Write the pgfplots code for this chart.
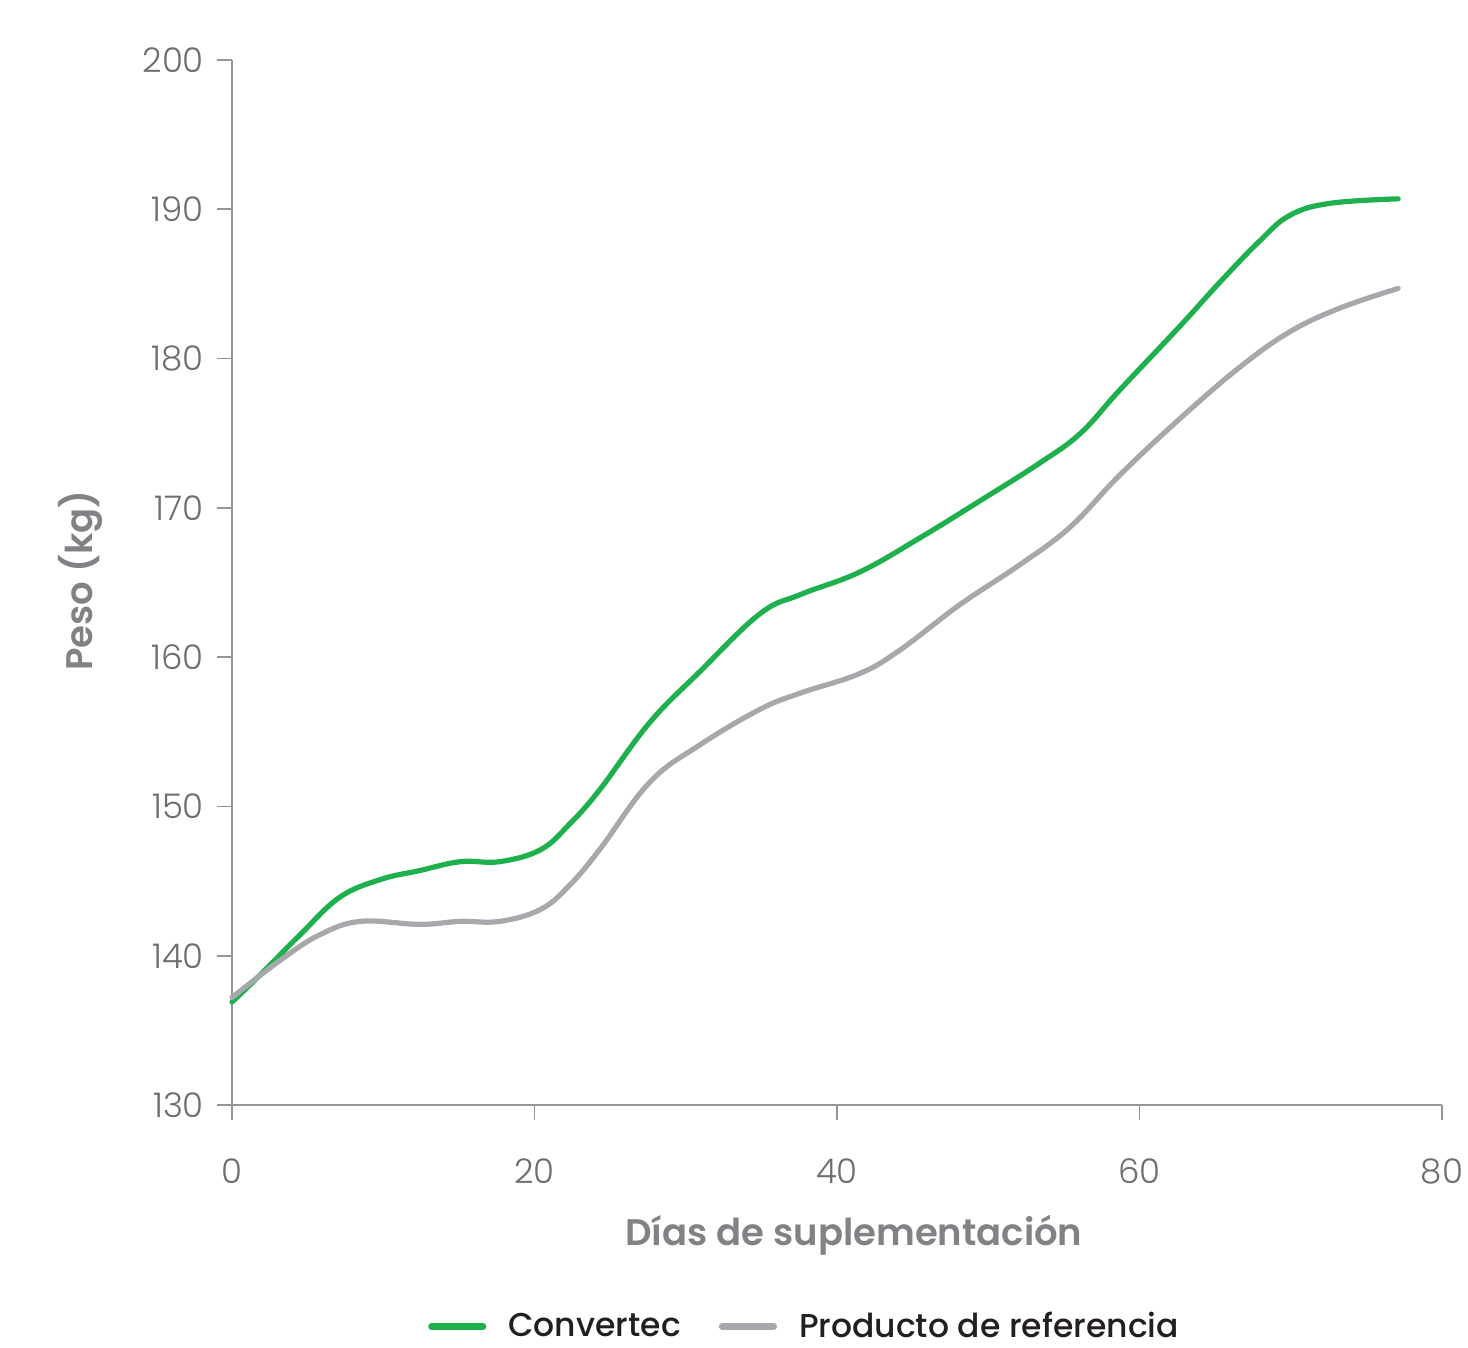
\documentclass[border=0pt]{standalone}
\usepackage{pgfplots}
\pgfplotsset{compat=1.18}
\usepackage{fontspec}
\setmainfont{Poppins}
\newfontfamily\psemi{Poppins SemiBold}
\newfontfamily\pmed{Poppins Medium}
\newfontfamily\plight{Poppins Light}
\definecolor{cgreen}{HTML}{1FB04E}
\definecolor{cgray}{HTML}{A7A8AB}
\definecolor{caxis}{HTML}{939598}
\definecolor{ctick}{HTML}{6D6E71}
\definecolor{clab}{HTML}{808285}
\definecolor{cleg}{HTML}{231F20}
\begin{document}
\begin{tikzpicture}
\useasboundingbox (0,0) rectangle (734pt,674pt);
\begin{axis}[
  at={(116pt,121.5pt)}, anchor=south west,
  scale only axis, width=605pt, height=522.5pt,
  xmin=0, xmax=80, ymin=130, ymax=200,
  xtick={0,20,...,80}, ytick={130,140,...,200},
  axis lines=left, axis line style={-, caxis, line width=0.9pt},
  tick align=outside, major tick length=7.5pt,
  tick style={caxis, line width=0.9pt},
  /pgf/number format/assume math mode=true,
  ticklabel style={font=\plight\fontsize{17}{19}\selectfont, text=ctick},
  xticklabel style={yshift=-16pt},
  yticklabel style={xshift=-3pt},
  xlabel={Días de suplementación},
  ylabel={Peso (kg)},
  label style={font=\psemi\fontsize{18.5}{20}\selectfont, text=clab},
  xlabel style={at={(axis description cs:0.514,-0.125)}, anchor=center},
  ylabel style={at={(axis description cs:-0.1256,0.502)}, anchor=center, rotate=0},
  legend style={at={(axis description cs:0.474,-0.212)}, anchor=center, draw=none,
    legend columns=2, font=\pmed\fontsize{16.5}{18}\selectfont\color{cleg},
    /tikz/every odd column/.append style={column sep=9pt},
    /tikz/every even column/.append style={column sep=17pt}},
  legend image code/.code={\draw[#1, line cap=round, line width=3.5pt] (0cm,0cm) -- (0.9cm,0cm);},
  clip=false,
]
\addplot[cgreen, line width=2.6pt, line cap=round, smooth, tension=0.65] coordinates {
(0,136.9) (1.85,138.7) (4.5,141.4) (7.1,143.9) (9.8,145.1) (12.4,145.7) (15.1,146.3)
(17.7,146.3) (20.4,147.1) (22.3,148.8) (24.3,151.1) (27.6,155.6) (30.9,159.0)
(34.9,162.9) (37.6,164.2) (41.5,165.7) (45.5,168.0) (49.5,170.5) (53.4,173.0)
(56.1,175.0) (58.7,177.9) (62.7,182.2) (65.3,185.1) (67.97,187.9) (69.95,189.6)
(72.6,190.4) (77.1,190.7)
};
\addlegendentry{Convertec}
\addplot[cgray, line width=2.6pt, line cap=round, smooth, tension=0.65] coordinates {
(0,137.2) (3.2,139.7) (5.8,141.4) (8.5,142.3) (12.4,142.1) (15.1,142.3) (17.7,142.3)
(20.4,143.1) (22.3,144.7) (24.3,147.1) (27.6,151.6) (30.9,154.1) (34.9,156.5)
(37.6,157.6) (41.5,158.9) (44.2,160.5) (48.1,163.5) (52.1,166.2) (55.4,168.7)
(58.7,172.2) (62.7,176.0) (66.6,179.4) (69.95,181.8) (73.3,183.4) (77.1,184.7)
};
\addlegendentry{Producto de referencia}
\end{axis}
\end{tikzpicture}
\end{document}
